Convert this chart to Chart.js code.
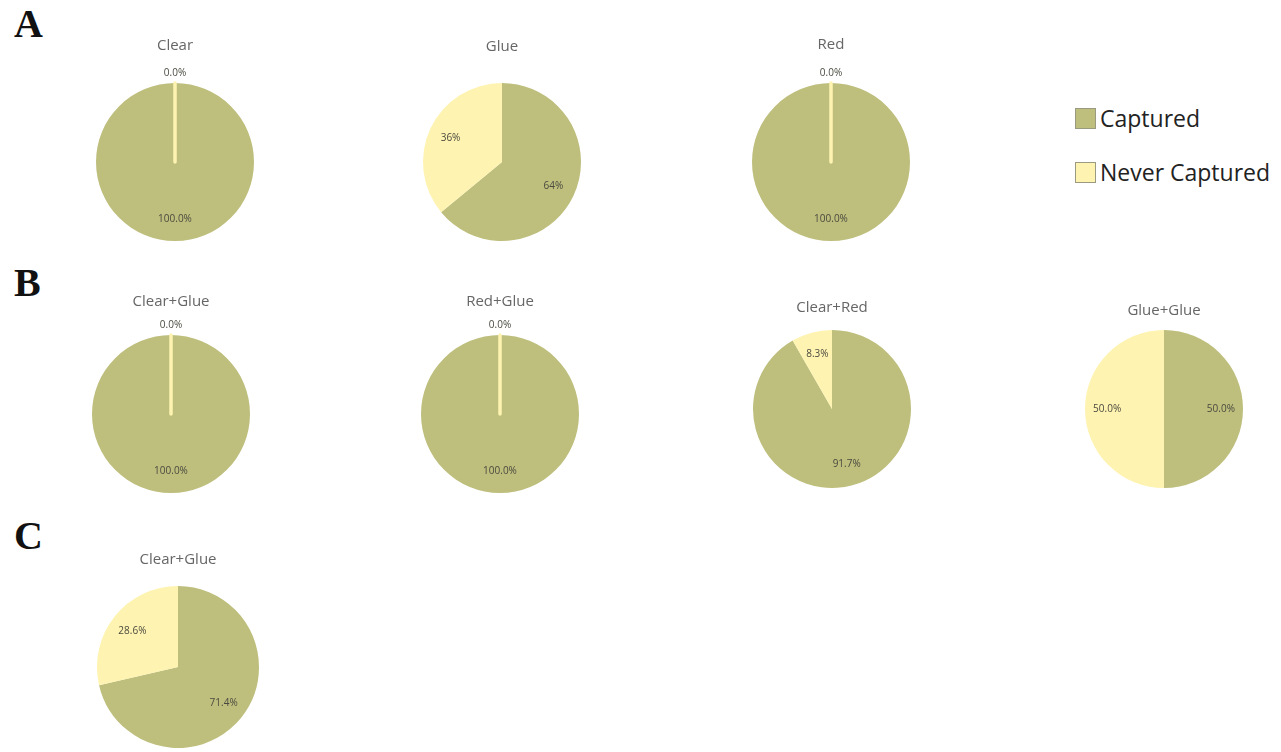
<!DOCTYPE html>
<html>
<head>
<meta charset="utf-8">
<script src="https://cdn.jsdelivr.net/npm/chart.js@4.4.0/dist/chart.umd.min.js"></script>
<style>
  body { margin: 0; width: 1281px; height: 752px; background: #fff; position: relative; overflow: hidden; font-family: "Open Sans", sans-serif; }
  .panel { position: absolute; left: 14px; font-family: "Liberation Serif", serif; font-weight: bold; font-size: 40px; line-height: 40px; color: #111; }
  .box { position: absolute; }
  .legend { position: absolute; left: 1075px; top: 104px; color: #222; font-size: 23px; }
  .legend .item { display: flex; align-items: center; height: 28px; margin-bottom: 26px; }
  .legend .sw { width: 19px; height: 19px; border: 1px solid #9a9a80; margin-right: 4px; }
</style>
</head>
<body>
<div class="panel" style="top:4px">A</div>
<div class="panel" style="top:263px">B</div>
<div class="panel" style="top:516px">C</div>

<div class="legend" id="legend"></div>

<script>
const categories = ['Captured', 'Never Captured'];
const titles = ['Clear', 'Glue', 'Red', 'Clear+Glue', 'Red+Glue', 'Clear+Red', 'Glue+Glue', 'Clear+Glue'];
const captured = [100, 64, 100, 100, 100, 91.7, 50, 71.4];
const neverCaptured = [0, 36, 0, 0, 0, 8.3, 50, 28.6];
const decimals = [1, 0, 1, 1, 1, 1, 1, 1];

const colors = ['#bebe7d', '#fef3b0'];

// where each pie sits on the page (centre, radius, title line)
const layout = [
  { cx: 175, cy: 162, r: 79, titleY: 46 },
  { cx: 502, cy: 162, r: 79, titleY: 47 },
  { cx: 831, cy: 162, r: 79, titleY: 45 },
  { cx: 171, cy: 414, r: 79, titleY: 302 },
  { cx: 500, cy: 414, r: 79, titleY: 302 },
  { cx: 832, cy: 409, r: 79, titleY: 308 },
  { cx: 1164, cy: 409, r: 79, titleY: 311 },
  { cx: 178, cy: 667, r: 81, titleY: 560 }
];

// legend
const legend = document.getElementById('legend');
categories.forEach((c, i) => {
  let item = document.createElement('div');
  item.className = 'item';
  item.innerHTML = '<span class="sw" style="background:' + colors[i] + '"></span><span>' + c + '</span>';
  legend.appendChild(item);
});

// percentage labels + the thin line that marks an empty slice
const pieLabels = {
  id: 'pieLabels',
  afterDatasetsDraw(chart, args, opts) {
    const ctx = chart.ctx;
    const meta = chart.getDatasetMeta(0);
    const values = chart.data.datasets[0].data;
    const total = values.reduce((a, b) => a + b, 0);
    ctx.save();
    meta.data.forEach((arc, i) => {
      const p = arc.getProps(['x', 'y', 'startAngle', 'endAngle', 'outerRadius']);
      const v = values[i];
      let ang, dist;
      if (v === 0) {
        ctx.strokeStyle = colors[i];
        ctx.lineWidth = 3.5;
        ctx.lineCap = 'round';
        ctx.beginPath();
        ctx.moveTo(p.x, p.y);
        ctx.lineTo(p.x + Math.cos(p.startAngle) * p.outerRadius, p.y + Math.sin(p.startAngle) * p.outerRadius);
        ctx.stroke();
        ang = p.startAngle;
        dist = p.outerRadius + 10;
      } else {
        ang = (p.startAngle + p.endAngle) / 2;
        dist = p.outerRadius * 0.72;
      }
      ctx.fillStyle = '#4a4a40';
      ctx.font = '10px "Open Sans"';
      ctx.textAlign = 'center';
      ctx.textBaseline = 'middle';
      ctx.fillText((v / total * 100).toFixed(opts.decimals) + '%', p.x + Math.cos(ang) * dist, p.y + Math.sin(ang) * dist);
    });
    ctx.restore();
  }
};

titles.forEach((t, i) => {
  const L = layout[i];
  const side = 50;
  const titleSize = 15;
  const top = L.titleY - titleSize * 0.6;
  const w = 2 * L.r + 2 * side;
  const h = (L.cy + L.r + 6) - top;

  let box = document.createElement('div');
  box.className = 'box';
  box.style.left = (L.cx - w / 2) + 'px';
  box.style.top = top + 'px';
  box.style.width = w + 'px';
  box.style.height = h + 'px';
  let canvas = document.createElement('canvas');
  box.appendChild(canvas);
  document.body.appendChild(box);

  new Chart(canvas.getContext('2d'), {
    type: 'pie',
    data: {
      labels: categories,
      datasets: [{
        data: [captured[i], neverCaptured[i]],
        backgroundColor: colors,
        borderWidth: 0
      }]
    },
    options: {
      responsive: true,
      maintainAspectRatio: false,
      animation: false,
      layout: { padding: { left: side, right: side, top: 0, bottom: 6 } },
      plugins: {
        legend: { display: false },
        tooltip: { enabled: false },
        title: {
          display: true,
          text: t,
          color: '#666666',
          font: { family: 'Open Sans', size: titleSize, weight: 'normal', lineHeight: 1.2 },
          padding: { top: 0, bottom: (L.cy - L.r) - (L.titleY + titleSize * 0.6) }
        },
        pieLabels: { decimals: decimals[i] }
      }
    },
    plugins: [pieLabels]
  });
});
</script>
</body>
</html>
